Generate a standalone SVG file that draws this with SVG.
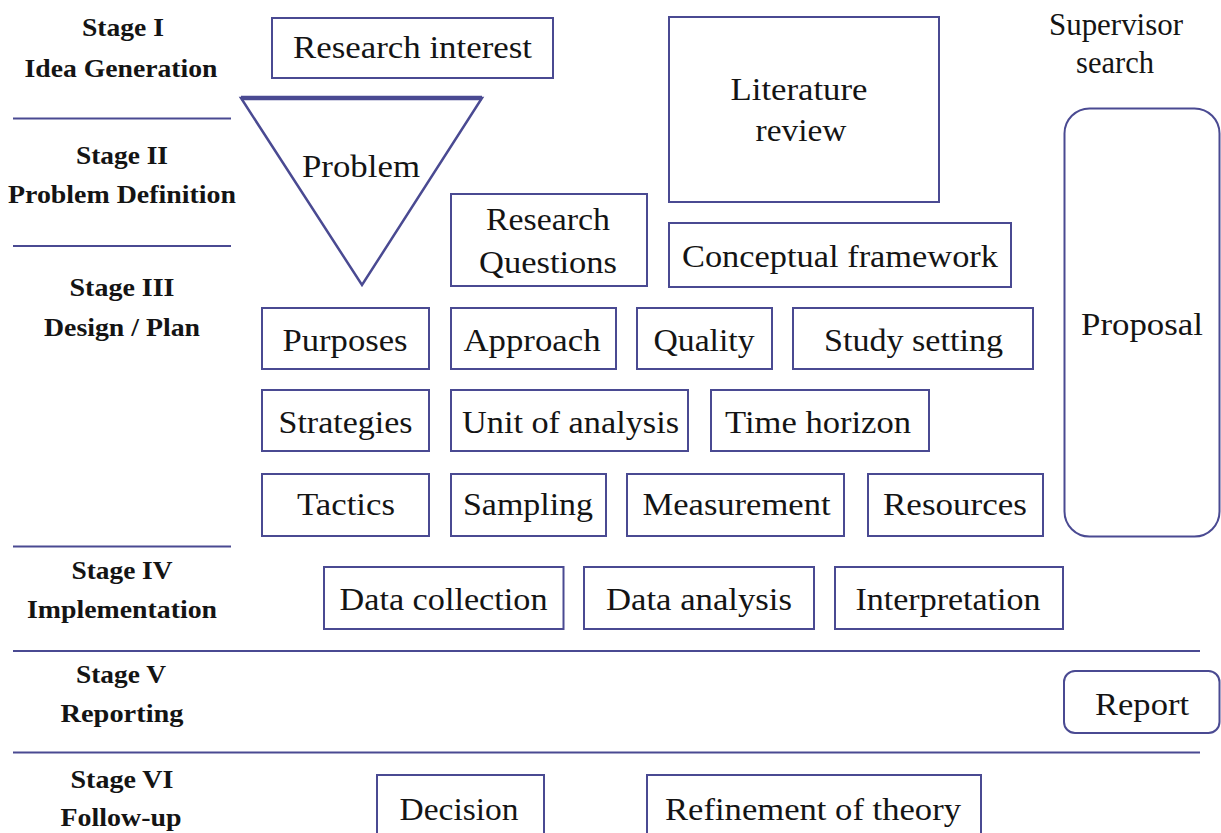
<svg xmlns="http://www.w3.org/2000/svg" width="1221" height="833" viewBox="0 0 1221 833">
<style>
.bg{fill:#ffffff}
.box{fill:#ffffff;stroke:#4a4a92;stroke-width:2}
.sep{stroke:#4a4a92;stroke-width:2}
.t{font-family:"Liberation Serif","Times New Roman",serif;font-size:32px;fill:#141414;text-anchor:middle}
.s{font-family:"Liberation Serif","Times New Roman",serif;font-size:25px;font-weight:bold;fill:#141414;text-anchor:middle}
</style>
<rect class="bg" x="0" y="0" width="1221" height="833"/>
<g id="separators">
<line class="sep" x1="13" y1="118.5" x2="231" y2="118.5"/>
<line class="sep" x1="13" y1="246" x2="231" y2="246"/>
<line class="sep" x1="13" y1="546.5" x2="231" y2="546.5"/>
<line class="sep" x1="13" y1="651" x2="1200" y2="651"/>
<line class="sep" x1="13" y1="752.5" x2="1200" y2="752.5"/>
</g>
<g id="stage-labels">
<text class="s" x="123" y="36" textLength="82" lengthAdjust="spacingAndGlyphs">Stage I</text>
<text class="s" x="121" y="77" textLength="193" lengthAdjust="spacingAndGlyphs">Idea Generation</text>
<text class="s" x="122" y="164" textLength="92" lengthAdjust="spacingAndGlyphs">Stage II</text>
<text class="s" x="122" y="203" textLength="228" lengthAdjust="spacingAndGlyphs">Problem Definition</text>
<text class="s" x="122" y="296" textLength="105" lengthAdjust="spacingAndGlyphs">Stage III</text>
<text class="s" x="122" y="336" textLength="156" lengthAdjust="spacingAndGlyphs">Design / Plan</text>
<text class="s" x="122" y="579" textLength="101" lengthAdjust="spacingAndGlyphs">Stage IV</text>
<text class="s" x="122" y="618" textLength="190" lengthAdjust="spacingAndGlyphs">Implementation</text>
<text class="s" x="121" y="683" textLength="90" lengthAdjust="spacingAndGlyphs">Stage V</text>
<text class="s" x="122" y="722" textLength="123" lengthAdjust="spacingAndGlyphs">Reporting</text>
<text class="s" x="122" y="788" textLength="103" lengthAdjust="spacingAndGlyphs">Stage VI</text>
<text class="s" x="121" y="826" textLength="121" lengthAdjust="spacingAndGlyphs">Follow-up</text>
</g>
<g id="research-interest">
<rect class="box" x="272" y="18" width="281" height="60"/>
<text class="t" x="412.5" y="58" textLength="239" lengthAdjust="spacingAndGlyphs">Research interest</text>
</g>
<g id="problem">
<polygon points="241,98 482,98 362,285" fill="#ffffff" stroke="#4a4a92" stroke-width="2.5" stroke-linejoin="miter"/>
<line x1="241" y1="98" x2="482" y2="98" stroke="#4a4a92" stroke-width="4.5"/>
<text class="t" x="361" y="177" textLength="118" lengthAdjust="spacingAndGlyphs">Problem</text>
</g>
<g id="literature-review">
<rect class="box" x="669" y="17" width="270" height="185"/>
<text class="t" x="799" y="100" textLength="137" lengthAdjust="spacingAndGlyphs">Literature</text>
<text class="t" x="801" y="141" textLength="91" lengthAdjust="spacingAndGlyphs">review</text>
</g>
<g id="supervisor-search">
<text class="t" x="1116" y="35" textLength="134" lengthAdjust="spacingAndGlyphs">Supervisor</text>
<text class="t" x="1115" y="73" textLength="78" lengthAdjust="spacingAndGlyphs">search</text>
</g>
<g id="proposal">
<rect class="box" x="1064.5" y="108.5" width="155" height="428" rx="25" ry="25"/>
<text class="t" x="1142" y="335" textLength="122" lengthAdjust="spacingAndGlyphs">Proposal</text>
</g>
<g id="research-questions">
<rect class="box" x="451" y="194" width="196" height="92"/>
<text class="t" x="548" y="230" textLength="124" lengthAdjust="spacingAndGlyphs">Research</text>
<text class="t" x="548" y="273" textLength="138" lengthAdjust="spacingAndGlyphs">Questions</text>
</g>
<g id="conceptual-framework">
<rect class="box" x="669" y="223" width="342" height="64"/>
<text class="t" x="840" y="267" textLength="316" lengthAdjust="spacingAndGlyphs">Conceptual framework</text>
</g>
<g id="purposes">
<rect class="box" x="262" y="308" width="167" height="61"/>
<text class="t" x="345" y="351" textLength="125" lengthAdjust="spacingAndGlyphs">Purposes</text>
</g>
<g id="approach">
<rect class="box" x="451" y="308" width="165" height="61"/>
<text class="t" x="532" y="351" textLength="137" lengthAdjust="spacingAndGlyphs">Approach</text>
</g>
<g id="quality">
<rect class="box" x="637" y="308" width="135" height="61"/>
<text class="t" x="704" y="351" textLength="101" lengthAdjust="spacingAndGlyphs">Quality</text>
</g>
<g id="study-setting">
<rect class="box" x="793" y="308" width="240" height="61"/>
<text class="t" x="913.5" y="351" textLength="179" lengthAdjust="spacingAndGlyphs">Study setting</text>
</g>
<g id="strategies">
<rect class="box" x="262" y="390" width="167" height="61"/>
<text class="t" x="345.5" y="433" textLength="134" lengthAdjust="spacingAndGlyphs">Strategies</text>
</g>
<g id="unit-of-analysis">
<rect class="box" x="451" y="390" width="237" height="61"/>
<text class="t" x="570.5" y="433" textLength="217" lengthAdjust="spacingAndGlyphs">Unit of analysis</text>
</g>
<g id="time-horizon">
<rect class="box" x="711" y="390" width="218" height="61"/>
<text class="t" x="818" y="433" textLength="186" lengthAdjust="spacingAndGlyphs">Time horizon</text>
</g>
<g id="tactics">
<rect class="box" x="262" y="474" width="167" height="62"/>
<text class="t" x="346" y="515" textLength="98" lengthAdjust="spacingAndGlyphs">Tactics</text>
</g>
<g id="sampling">
<rect class="box" x="451" y="474" width="155" height="62"/>
<text class="t" x="528" y="515" textLength="130" lengthAdjust="spacingAndGlyphs">Sampling</text>
</g>
<g id="measurement">
<rect class="box" x="627" y="474" width="217" height="62"/>
<text class="t" x="736.5" y="515" textLength="188" lengthAdjust="spacingAndGlyphs">Measurement</text>
</g>
<g id="resources">
<rect class="box" x="868" y="474" width="175" height="62"/>
<text class="t" x="955" y="515" textLength="144" lengthAdjust="spacingAndGlyphs">Resources</text>
</g>
<g id="data-collection">
<rect class="box" x="324" y="567" width="239.5" height="62"/>
<text class="t" x="443.5" y="610" textLength="208" lengthAdjust="spacingAndGlyphs">Data collection</text>
</g>
<g id="data-analysis">
<rect class="box" x="584" y="567" width="230" height="62"/>
<text class="t" x="699" y="610" textLength="186" lengthAdjust="spacingAndGlyphs">Data analysis</text>
</g>
<g id="interpretation">
<rect class="box" x="835" y="567" width="228" height="62"/>
<text class="t" x="948" y="610" textLength="185" lengthAdjust="spacingAndGlyphs">Interpretation</text>
</g>
<g id="report">
<rect class="box" x="1064" y="671" width="155.5" height="62" rx="11" ry="11"/>
<text class="t" x="1142" y="715" textLength="94" lengthAdjust="spacingAndGlyphs">Report</text>
</g>
<g id="decision">
<rect class="box" x="377" y="775" width="167" height="70"/>
<text class="t" x="459" y="820" textLength="119" lengthAdjust="spacingAndGlyphs">Decision</text>
</g>
<g id="refinement-of-theory">
<rect class="box" x="647" y="775" width="334" height="70"/>
<text class="t" x="813" y="820" textLength="296" lengthAdjust="spacingAndGlyphs">Refinement of theory</text>
</g>
</svg>
